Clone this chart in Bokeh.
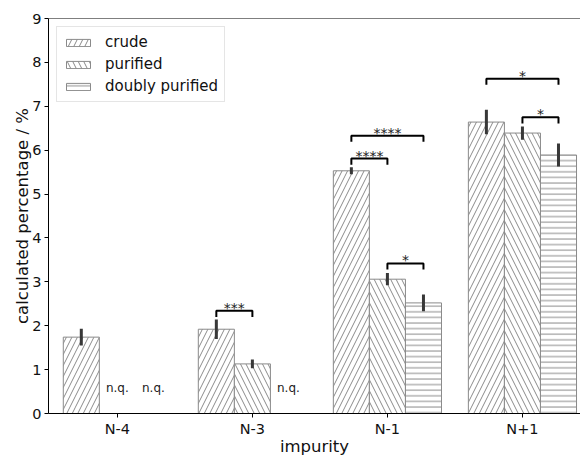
import math
from bokeh.plotting import figure
from bokeh.models import (ColumnDataSource, FixedTicker, Range1d, Span,
                          Legend, LegendItem)
from bokeh.embed import file_html
from bokeh.resources import INLINE
from bokeh.core.properties import value

nan = float("nan")

# ---------------- data ----------------
categories = ["N-4", "N-3", "N-1", "N+1"]
series_names = ["crude", "purified", "doubly purified"]
crude = [1.74, 1.92, 5.53, 6.64]
purified = [nan, 1.13, 3.06, 6.39]
doubly = [nan, nan, 2.52, 5.89]
crude_err = [0.19, 0.22, 0.08, 0.28]
purified_err = [nan, 0.10, 0.14, 0.15]
doubly_err = [nan, nan, 0.19, 0.26]
y_ticks = [0, 1, 2, 3, 4, 5, 6, 7, 8, 9]

# significance brackets: category, from series, to series, height, label
br_cat = [1, 2, 2, 2, 3, 3]
br_from = [0, 0, 0, 1, 0, 1]
br_to = [1, 1, 2, 2, 2, 2]
br_y = [2.34, 5.81, 6.33, 3.42, 7.63, 6.75]
br_label = ["***", "****", "****", "*", "*", "*"]
nq_text = "n.q."

# ---------------- styling ----------------
FONT = "DejaVu Sans"
W = 0.267
EDGE = "#8a8a8a"
hatches = ["/", "\\", "-"]
hatch_scales = [11, 11, 5.6]
values_all = [crude, purified, doubly]
errs_all = [crude_err, purified_err, doubly_err]

p = figure(width=580, height=459, output_backend="svg", toolbar_location=None,
           x_range=Range1d(-0.51, 3.43), y_range=Range1d(0, 9),
           min_border_left=48, min_border_right=0, min_border_top=18,
           min_border_bottom=46)
p.outline_line_color = None
p.xgrid.visible = False
p.ygrid.visible = False
p.background_fill_color = "white"
p.border_fill_color = "white"

renderers = []
for k in range(3):
    xs = [i + (k - 1) * W for i in range(len(categories))]
    tops = values_all[k]
    src = ColumnDataSource(dict(x=xs, top=tops))
    r = p.vbar(x="x", top="top", bottom=0, width=W, source=src,
               fill_color="white", line_color=EDGE, line_width=1,
               hatch_pattern=hatches[k], hatch_color=EDGE, hatch_weight=1,
               hatch_scale=hatch_scales[k])
    renderers.append(r)

# error bars
for k in range(3):
    xs, y0, y1 = [], [], []
    for i in range(len(categories)):
        v = values_all[k][i]
        e = errs_all[k][i]
        if math.isnan(v):
            continue
        xs.append(i + (k - 1) * W)
        y0.append(v - e)
        y1.append(v + e)
    p.segment(x0=xs, x1=xs, y0=y0, y1=y1, line_color="#383838", line_width=3)

# n.q. labels
nq_x, nq_y = [], []
for k in range(3):
    for i in range(len(categories)):
        if math.isnan(values_all[k][i]):
            nq_x.append(i + (k - 1) * W)
            nq_y.append(0.57)
p.text(x=nq_x, y=nq_y, text=[nq_text] * len(nq_x), text_align="center",
       text_baseline="middle", text_font=value(FONT), text_font_size="12px",
       text_color="#222222")

# significance brackets
DROP = 0.14
bxs, bys, sx, sy = [], [], [], []
for c, a, b, y in zip(br_cat, br_from, br_to, br_y):
    x0 = c + (a - 1) * W
    x1 = c + (b - 1) * W
    bxs.append([x0, x0, x1, x1])
    bys.append([y - DROP, y, y, y - DROP])
    sx.append((x0 + x1) / 2)
    sy.append(y)
p.multi_line(xs=bxs, ys=bys, line_color="black", line_width=2)
p.text(x=sx, y=sy, text=br_label, text_align="center", text_baseline="alphabetic",
       y_offset=-3, text_font=value(FONT), text_font_size="14px",
       text_color="#222222")

# axes
for ax in (p.xaxis[0], p.yaxis[0]):
    ax.axis_line_color = "black"
    ax.axis_line_width = 1
    ax.major_tick_line_color = "black"
    ax.major_tick_in = 0
    ax.major_tick_out = 4
    ax.minor_tick_line_color = None
    ax.major_label_text_font = FONT
    ax.major_label_text_font_size = "14.5px"
    ax.major_label_text_color = "#111111"
    ax.axis_label_text_font = FONT
    ax.axis_label_text_font_size = "16.5px"
    ax.axis_label_text_font_style = "normal"
    ax.axis_label_text_color = "#111111"

p.yaxis[0].ticker = FixedTicker(ticks=y_ticks)
p.yaxis[0].axis_label = "calculated percentage / %"
p.yaxis[0].axis_label_standoff = -3
p.yaxis[0].major_label_standoff = 3

p.xaxis[0].ticker = FixedTicker(ticks=list(range(len(categories))))
p.xaxis[0].major_label_overrides = {i: c for i, c in enumerate(categories)}
p.xaxis[0].axis_label = "impurity"
p.xaxis[0].axis_label_standoff = -3
p.xaxis[0].major_label_standoff = 3

# top spine
p.add_layout(Span(location=9, dimension="width", line_color="black", line_width=1))

legend = Legend(items=[LegendItem(label=n, renderers=[r]) for n, r in zip(series_names, renderers)],
                location="top_left", margin=8, padding=6, spacing=4,
                glyph_width=30, glyph_height=9, label_height=17,
                label_standoff=12, label_text_font=FONT,
                label_text_font_size="15px", label_text_color="#111111",
                border_line_color="#cccccc", border_line_width=1,
                background_fill_color="white", background_fill_alpha=0.8)
p.add_layout(legend)

open("out.html", "w").write(file_html(p, INLINE))
